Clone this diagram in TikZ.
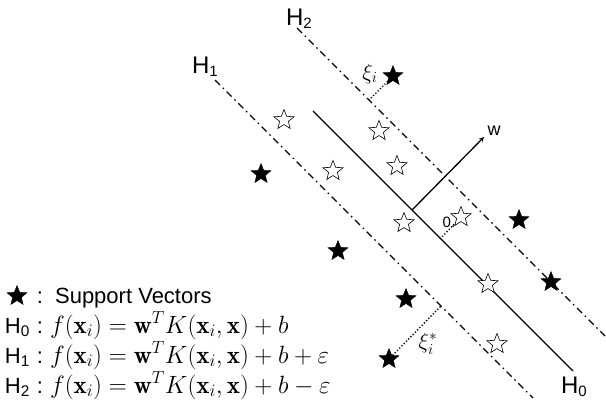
\RequirePackage{fix-cm}
\documentclass[tikz,border=0pt]{standalone}
\usepackage{amsmath,amssymb}
\usepackage{fontspec}
\usepackage{tikz}
\usetikzlibrary{shapes.geometric, arrows}
\newfontfamily\labelfont{Liberation Sans}
\newcommand{\bigmath}[1]{{\fontsize{25}{30}\selectfont$#1$}}

\begin{document}
\begin{tikzpicture}[
x=1pt, y=-1pt,
every node/.style={inner sep=0pt, outer sep=0pt},
arrow/.style={->, >=stealth, line width=1.3pt}
]

% Define styles
\tikzstyle{hollow} = [star, star points=5, star point ratio=2.3, minimum size=21pt, draw=black, fill=white, line width=0.6pt]
\tikzstyle{filled} = [star, star points=5, star point ratio=2.3, minimum size=21pt, draw=black, fill=black]
\tikzstyle{margin} = [line width=1.3pt, dash pattern=on 7pt off 4pt on 1.5pt off 4pt]
\tikzstyle{hyper} = [line width=1.4pt]
\tikzstyle{slack} = [line width=1.4pt, dash pattern=on 1.2pt off 2pt]
\tikzstyle{hname} = [font=\labelfont\fontsize{24}{24}\selectfont, anchor=base west]
\tikzstyle{legend} = [font=\labelfont\fontsize{22}{26}\selectfont, anchor=base west]

\useasboundingbox (0,0) rectangle (606,405);

% Hyperplanes
\coordinate (h0a) at (313,111);
\coordinate (h0b) at (573,371);
\coordinate (h1a) at (215,80);
\coordinate (h1b) at (533,398);
\coordinate (h2a) at (297,28);
\coordinate (h2b) at (605,336);

\draw [hyper] (h0a) -- (h0b);
\draw [margin] (h1a) -- (h1b);
\draw [margin] (h2a) -- (h2b);

\node (nh2) [hname] at (286,25) {H\raisebox{-3pt}{\fontsize{15}{15}\selectfont 2}};
\node (nh1) [hname] at (192,73) {H\raisebox{-3pt}{\fontsize{15}{15}\selectfont 1}};
\node (nh0) [hname] at (561,393) {H\raisebox{-3pt}{\fontsize{15}{15}\selectfont 0}};

% Normal vector
\coordinate (wbase) at (412,210);
\coordinate (wtip) at (484,137);
\draw [arrow] (wbase) -- (wtip);
\node (wlab) [font=\labelfont\fontsize{18}{18}\selectfont] at (494,131) {w};

% Samples
\node (o1) [hollow] at (284,120) {};
\node (o2) [hollow] at (379,131) {};
\node (o3) [hollow] at (397,166) {};
\node (o4) [hollow] at (333,171) {};
\node (o5) [hollow] at (404,223) {};
\node (o6) [hollow] at (461,217) {};
\node (o7) [hollow] at (488,284) {};
\node (o8) [hollow] at (497,344) {};

\node (s1) [filled] at (393,76) {};
\node (s2) [filled] at (261,174) {};
\node (s3) [filled] at (519,220) {};
\node (s4) [filled] at (338,251) {};
\node (s5) [filled] at (551,282) {};
\node (s6) [filled] at (406,299) {};
\node (s7) [filled] at (389,359) {};

% Slack variables
\coordinate (f1) at (369,100);
\coordinate (f7) at (441,306);
\coordinate (f0) at (440,239);
\draw [slack] (s1) -- (f1);
\draw [slack] (s7) -- (f7);
\draw [slack] (f0) -- (o6);

\node (xi) [font=\fontsize{22}{22}\selectfont] at (370,74) {$\xi_i$};
\node (xis) [font=\fontsize{22}{22}\selectfont] at (428,344) {$\xi_i^*$};
\node (zero) [font=\labelfont\fontsize{15}{15}\selectfont] at (449,222) {0.};

% Legend
\node (legstar) [filled] at (17,296) {};
\node (legsv) [legend] at (37,303) {:\hspace{12pt}Support Vectors};
\node (leg0) [legend] at (5,333) {H\textsubscript{0}\hspace{7pt}:\hspace{7pt}\bigmath{f(\mathbf{x}_i) = \mathbf{w}^T K(\mathbf{x}_i, \mathbf{x}) + b}};
\node (leg1) [legend] at (5,363) {H\textsubscript{1}\hspace{7pt}:\hspace{7pt}\bigmath{f(\mathbf{x}_i) = \mathbf{w}^T K(\mathbf{x}_i, \mathbf{x}) + b + \varepsilon}};
\node (leg2) [legend] at (5,393) {H\textsubscript{2}\hspace{7pt}:\hspace{7pt}\bigmath{f(\mathbf{x}_i) = \mathbf{w}^T K(\mathbf{x}_i, \mathbf{x}) + b - \varepsilon}};

\end{tikzpicture}
\end{document}
